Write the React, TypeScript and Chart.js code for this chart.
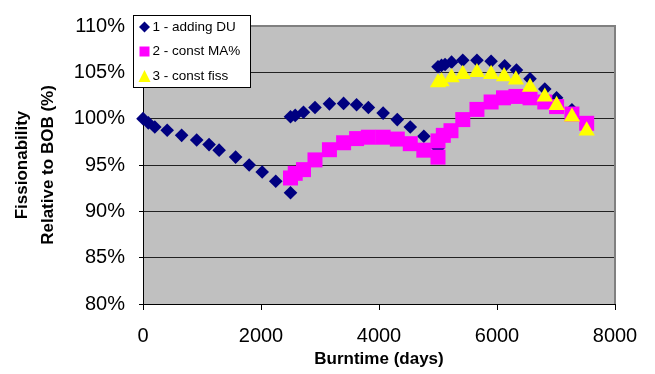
import React, { useEffect, useRef } from 'react';
import { Chart, registerables } from 'chart.js';

Chart.register(...registerables);

const seriesNames = ['1 - adding DU', '2 - const MA%', '3 - const fiss'];
const seriesColors = ['#000080', '#ff00ff', '#ffff00'];

const xTitle = 'Burntime (days)';
const yTitle = ['Fissionability', 'Relative to BOB (%)'];

const xMin = 0;
const xMax = 8000;
const xStep = 2000;
const yMin = 80;
const yMax = 110;
const yStep = 5;

const duDays = [
  0, 90, 200, 410, 655, 910, 1120, 1290, 1570, 1800, 2020, 2250, 2500,
  2500, 2580, 2720, 2915, 3160, 3400, 3620, 3820, 4070, 4310, 4530, 4760, 5000,
  5000, 5060, 5120, 5230, 5420, 5660, 5900, 6130, 6330, 6560, 6810, 7010, 7270, 7520,
];
const duValues = [
  100.0, 99.55, 99.1, 98.75, 98.2, 97.7, 97.2, 96.6, 95.85, 95.0, 94.25, 93.25, 92.0,
  100.2, 100.35, 100.7, 101.2, 101.6, 101.65, 101.5, 101.2, 100.6, 99.9, 99.1, 98.1, 96.8,
  105.6, 105.75, 105.85, 106.1, 106.3, 106.3, 106.2, 105.7, 105.25, 104.3, 103.2, 102.25, 100.95, 99.5,
];

const maDays = [
  2500, 2580, 2720, 2915, 3160, 3400, 3620, 3820, 4070, 4310, 4530, 4760, 5000,
  5000, 5090, 5220, 5420, 5660, 5900, 6110, 6320, 6560, 6810, 7010, 7270, 7520,
];
const maValues = [
  93.6, 94.1, 94.5, 95.55, 96.65, 97.4, 97.85, 98.0, 98.0, 97.8, 97.3, 96.6, 95.85,
  97.6, 98.2, 98.7, 99.9, 101.0, 101.8, 102.25, 102.4, 102.25, 101.8, 101.3, 100.5, 99.5,
];

const fissDays = [5000, 5060, 5230, 5420, 5660, 5900, 6120, 6320, 6560, 6810, 7010, 7270, 7520];
const fissValues = [103.9, 104.0, 104.45, 104.8, 105.0, 104.8, 104.55, 104.2, 103.4, 102.35, 101.45, 100.2, 98.7];

const FONT = "'Liberation Sans', Arial, sans-serif";

function toPoints(xs: number[], ys: number[]) {
  return xs.map((x, i) => ({ x, y: ys[i] }));
}

const plotBackground = {
  id: 'plotBackground',
  beforeDraw(chart: any) {
    const { ctx, chartArea } = chart;
    ctx.save();
    ctx.fillStyle = '#c0c0c0';
    ctx.fillRect(chartArea.left, chartArea.top, chartArea.right - chartArea.left, chartArea.bottom - chartArea.top);
    ctx.restore();
  },
  beforeDatasetsDraw(chart: any) {
    const { ctx, chartArea } = chart;
    ctx.save();
    ctx.strokeStyle = '#808080';
    ctx.lineWidth = 2;
    ctx.beginPath();
    ctx.moveTo(chartArea.left, chartArea.top);
    ctx.lineTo(chartArea.right, chartArea.top);
    ctx.lineTo(chartArea.right, chartArea.bottom);
    ctx.stroke();
    ctx.restore();
  },
};

const customLegend = {
  id: 'customLegend',
  afterDraw(chart: any) {
    const { ctx } = chart;
    const bx = 133.5, by = 15.5, bw = 117, bh = 72;
    ctx.save();
    ctx.fillStyle = '#ffffff';
    ctx.fillRect(bx, by, bw, bh);
    ctx.strokeStyle = '#000000';
    ctx.lineWidth = 1;
    ctx.strokeRect(bx, by, bw, bh);
    const rows = [27, 51.5, 76];
    seriesNames.forEach((name, i) => {
      const cy = rows[i];
      const cx = 144.5;
      ctx.fillStyle = seriesColors[i];
      ctx.beginPath();
      if (i === 0) {
        ctx.moveTo(cx - 5.5, cy);
        ctx.lineTo(cx, cy - 5.5);
        ctx.lineTo(cx + 5.5, cy);
        ctx.lineTo(cx, cy + 5.5);
      } else if (i === 1) {
        ctx.rect(cx - 5, cy - 5, 10, 10);
      } else {
        ctx.moveTo(cx, cy - 6);
        ctx.lineTo(cx + 6, cy + 6);
        ctx.lineTo(cx - 6, cy + 6);
      }
      ctx.closePath();
      ctx.fill();
      ctx.fillStyle = '#000000';
      ctx.font = `13.5px ${FONT}`;
      ctx.textBaseline = 'middle';
      ctx.textAlign = 'left';
      ctx.fillText(name, 152.5, cy);
    });
    ctx.restore();
  },
};

export default function App() {
  const canvasRef = useRef<HTMLCanvasElement | null>(null);

  useEffect(() => {
    document.body.style.margin = '0';
    const canvas = canvasRef.current;
    if (!canvas) return;
    const chart = new Chart(canvas, {
      type: 'scatter',
      data: {
        datasets: [
          {
            label: seriesNames[0],
            data: toPoints(duDays, duValues),
            pointStyle: 'rectRot',
            pointRadius: 6.8,
            pointHoverRadius: 6.8,
            backgroundColor: seriesColors[0],
            borderColor: seriesColors[0],
            borderWidth: 0,
            showLine: false,
            clip: false,
            order: 3,
          },
          {
            label: seriesNames[1],
            data: toPoints(maDays, maValues),
            pointStyle: 'rect',
            pointRadius: 10.6,
            pointHoverRadius: 10.6,
            backgroundColor: seriesColors[1],
            borderColor: seriesColors[1],
            borderWidth: 0,
            showLine: false,
            clip: false,
            order: 2,
          },
          {
            label: seriesNames[2],
            data: toPoints(fissDays, fissValues),
            pointStyle: 'triangle',
            pointRadius: 9.4,
            pointHoverRadius: 9.4,
            backgroundColor: seriesColors[2],
            borderColor: seriesColors[2],
            borderWidth: 0,
            showLine: false,
            clip: false,
            order: 1,
          },
        ],
      },
      options: {
        animation: false,
        responsive: false,
        devicePixelRatio: 1,
        layout: { padding: { left: 0, top: 19, right: 40, bottom: 0 } },
        plugins: {
          legend: { display: false },
          tooltip: { enabled: false },
        },
        scales: {
          x: {
            type: 'linear',
            min: xMin,
            max: xMax,
            afterFit: (s: any) => { s.height = 70; },
            ticks: {
              stepSize: xStep,
              color: '#000',
              font: { family: FONT, size: 20 },
              padding: 14,
              maxRotation: 0,
              callback: (v: any) => String(v),
            },
            grid: {
              drawOnChartArea: false,
              drawTicks: true,
              tickLength: 6,
              tickColor: '#000',
            },
            border: { display: true, color: '#000', width: 1 },
            title: {
              display: true,
              text: xTitle,
              color: '#000',
              font: { family: FONT, size: 17, weight: 'bold' },
              padding: { top: 0, bottom: 4 },
            },
          },
          y: {
            type: 'linear',
            min: yMin,
            max: yMax,
            afterFit: (s: any) => { s.width = 143; },
            ticks: {
              stepSize: yStep,
              color: '#000',
              font: { family: FONT, size: 20 },
              padding: 14,
              callback: (v: any) => `${v}%`,
            },
            grid: {
              color: (ctx: any) => {
                const v = ctx.tick ? ctx.tick.value : null;
                return v === yMin || v === yMax ? 'rgba(0,0,0,0)' : '#222';
              },
              tickColor: '#000',
              drawTicks: true,
              tickLength: 4,
            },
            border: { display: true, color: '#000', width: 1 },
            title: {
              display: true,
              text: yTitle,
              color: '#000',
              font: { family: FONT, size: 17, weight: 'bold', lineHeight: 1.5 },
              padding: { top: 10, bottom: 0 },
            },
          },
        },
      },
      plugins: [plotBackground, customLegend],
    });
    return () => chart.destroy();
  }, []);

  return (
    <div style={{ width: 655, height: 374 }}>
      <canvas ref={canvasRef} width={655} height={374} />
    </div>
  );
}
